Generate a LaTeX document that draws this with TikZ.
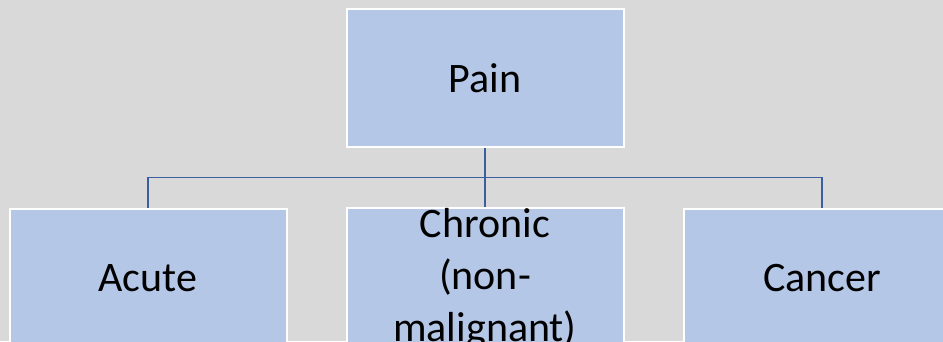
\documentclass[tikz,border=0pt]{standalone}
\usepackage{fontspec}
\setmainfont{Carlito}
\usetikzlibrary{positioning}

\definecolor{boxfill}{HTML}{B4C7E7}
\definecolor{linkblue}{HTML}{3A5E9E}
\definecolor{bggrey}{HTML}{D9D9D9}

\begin{document}
\begin{tikzpicture}[node distance={59pt}, main/.style = {draw=white, line width=2pt, fill=boxfill, rectangle, minimum width=277pt, minimum height=138pt, inner sep=0pt, align=center, font=\fontsize{42}{52}\selectfont}, link/.style = {draw=linkblue, line width=1.9pt}]
    \clip (0,0) rectangle (943pt,-341pt);
    \fill[bggrey] (0,0) rectangle (943pt,-341pt);
    \node[main] (pain) at (485pt,-78pt) {Pain};
    \node[main] (chronic) [below=of pain] {Chronic\\(non-\\malignant)};
    \node[main] (acute) [left=58pt of chronic] {Acute};
    \node[main] (cancer) [right=58pt of chronic] {Cancer};
    \coordinate[below=29.5pt of pain.south] (bus);
    \draw[link] (pain.south) -- (chronic.north) ;
    \draw[link] (acute.north) |- (bus) -| (cancer.north) ;
  \end{tikzpicture}
\end{document}
